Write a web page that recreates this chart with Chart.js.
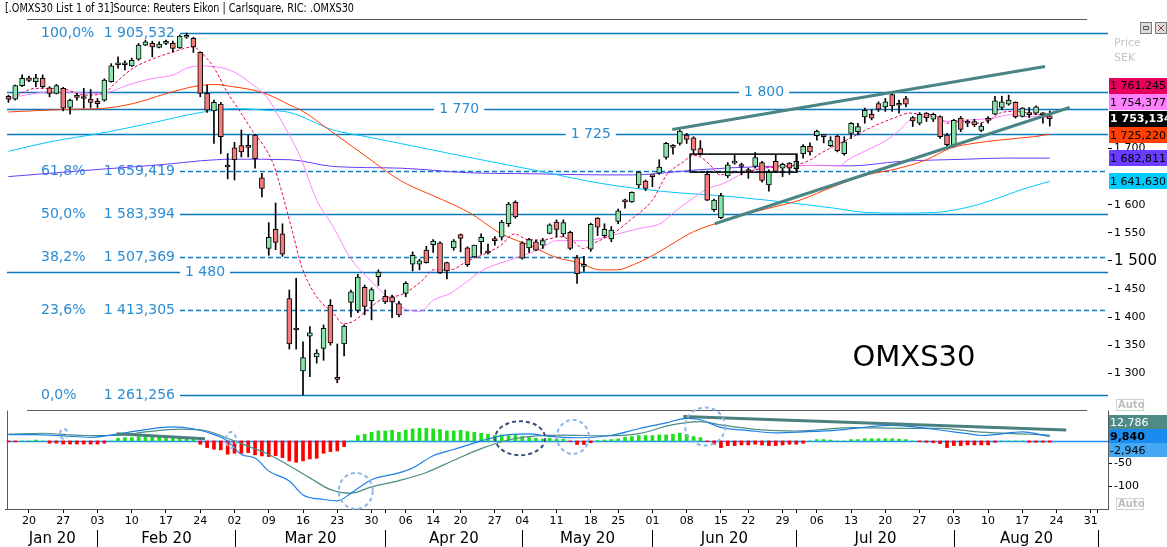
<!DOCTYPE html>
<html>
<head>
<meta charset="utf-8">
<script src="https://cdn.jsdelivr.net/npm/chart.js@4.4.1/dist/chart.umd.min.js"></script>
<style>
  html, body { margin: 0; padding: 0; background: #fff; }
  #wrap { width: 1167px; height: 547px; position: relative; }
</style>
</head>
<body>
<div id="wrap"><canvas id="chart"></canvas></div>
<script>
// --- trading days (OMX Stockholm, holidays skipped) ---
const holidays = ['2020-04-10', '2020-04-13', '2020-05-01', '2020-05-21', '2020-06-19'];
const days = [];
for (let t = Date.UTC(2020, 0, 15); t <= Date.UTC(2020, 8, 2); t += 864e5) {
    const d = new Date(t), wd = d.getUTCDay(), iso = d.toISOString().slice(0, 10);
    if (wd > 0 && wd < 6 && !holidays.includes(iso)) days.push(iso);
}
const monthNames = ['Jan', 'Feb', 'Mar', 'Apr', 'May', 'Jun', 'Jul', 'Aug', 'Sep'];

// --- OMXS30 daily candles, 15 Jan - 21 Aug 2020 ---
const opens = [
    1793, 1788, 1812, 1826, 1819, 1825, 1808, 1798, 1807, 1773,
    1793, 1791, 1788, 1784, 1786, 1819, 1849, 1849, 1847, 1859,
    1884, 1887, 1880, 1887, 1887, 1879, 1898, 1896, 1871, 1798,
    1767, 1779, 1669, 1701, 1705, 1704, 1724, 1648, 1522, 1556,
    1548, 1433, 1379, 1304, 1366, 1329, 1344, 1421, 1290, 1352,
    1426, 1412, 1453, 1429, 1472, 1437, 1436, 1424, 1442, 1494,
    1494, 1519, 1529, 1532, 1497, 1523, 1547, 1523, 1507, 1534,
    1515, 1538, 1542, 1566, 1604, 1532, 1523, 1534, 1528, 1549,
    1569, 1548, 1551, 1506, 1490, 1521, 1576, 1545, 1539, 1570,
    1606, 1605, 1635, 1642, 1651, 1656, 1684, 1703, 1709, 1724,
    1719, 1700, 1654, 1591, 1577, 1651, 1674, 1669, 1660, 1668,
    1675, 1635, 1677, 1665, 1674, 1664, 1691, 1704, 1723, 1722,
    1705, 1722, 1691, 1727, 1730, 1756, 1761, 1780, 1774, 1796,
    1778, 1789, 1755, 1745, 1763, 1752, 1757, 1724, 1706, 1754,
    1746, 1748, 1732, 1752, 1761, 1773, 1779, 1782, 1757, 1764,
    1763, 1761, 1758
];
const highs = [
    1795, 1813, 1831, 1829, 1832, 1831, 1810, 1814, 1809, 1788,
    1798, 1807, 1805, 1789, 1824, 1851, 1863, 1856, 1861, 1887,
    1893, 1891, 1890, 1893, 1891, 1902, 1905.53, 1898, 1872, 1813,
    1786, 1782, 1691, 1711, 1733, 1724, 1725, 1656, 1568, 1603,
    1566, 1448, 1469, 1356, 1383, 1342, 1386, 1431, 1352, 1386,
    1448, 1476, 1457, 1452, 1484, 1448, 1439, 1428, 1463, 1516,
    1503, 1526, 1538, 1534, 1498, 1538, 1548, 1525, 1528, 1548,
    1530, 1543, 1572, 1604, 1607, 1534, 1540, 1537, 1540, 1566,
    1573, 1573, 1553, 1510, 1508, 1567, 1577, 1566, 1561, 1592,
    1610, 1623, 1659, 1644, 1652, 1680, 1711, 1707, 1733, 1727,
    1721, 1714, 1660, 1610, 1620, 1675, 1688, 1674, 1665, 1693,
    1677, 1662, 1688, 1674, 1675, 1688, 1707, 1710, 1733, 1724,
    1721, 1724, 1721, 1746, 1745, 1772, 1769, 1783, 1789, 1798,
    1786, 1793, 1757, 1764, 1764, 1763, 1758, 1727, 1752, 1757,
    1751, 1752, 1745, 1757, 1793, 1793, 1795, 1783, 1773, 1773,
    1776, 1764, 1767
];
const lows = [
    1782, 1786, 1810, 1819, 1810, 1808, 1792, 1797, 1767, 1761,
    1786, 1772, 1773, 1773, 1784, 1818, 1843, 1840, 1846, 1857,
    1883, 1863, 1879, 1885, 1872, 1878, 1896, 1871, 1792, 1764,
    1709, 1691, 1646, 1644, 1685, 1685, 1665, 1614, 1510, 1520,
    1508, 1343, 1343, 1261.26, 1294, 1318, 1323, 1350, 1283, 1331,
    1400, 1408, 1404, 1395, 1456, 1424, 1399, 1400, 1436, 1482,
    1484, 1496, 1515, 1477, 1468, 1519, 1516, 1490, 1506, 1512,
    1512, 1528, 1537, 1561, 1576, 1503, 1515, 1518, 1522, 1548,
    1543, 1543, 1520, 1460, 1481, 1517, 1545, 1542, 1534, 1566,
    1594, 1604, 1630, 1625, 1632, 1654, 1681, 1690, 1706, 1709,
    1690, 1688, 1607, 1588, 1575, 1648, 1672, 1653, 1647, 1665,
    1640, 1624, 1658, 1650, 1654, 1659, 1683, 1688, 1715, 1710,
    1703, 1694, 1688, 1718, 1724, 1745, 1751, 1766, 1766, 1766,
    1763, 1774, 1739, 1742, 1748, 1748, 1718, 1704, 1703, 1730,
    1739, 1739, 1730, 1745, 1760, 1769, 1777, 1754, 1756, 1755,
    1760, 1745, 1740
];
const closes = [
    1788, 1812, 1825, 1821, 1826, 1810, 1798, 1812, 1772, 1786,
    1791, 1789, 1782, 1780, 1822, 1847, 1852, 1851, 1857, 1884,
    1890, 1881, 1886, 1888, 1878, 1900, 1900, 1881, 1798, 1768,
    1782, 1721, 1667, 1680, 1694, 1702, 1682, 1629, 1542, 1533,
    1512, 1352, 1377, 1328, 1372, 1336, 1380, 1354, 1289, 1384,
    1445, 1471, 1419, 1449, 1480, 1427, 1427, 1404, 1460, 1510,
    1500, 1497, 1535, 1479, 1482, 1535, 1540, 1493, 1528, 1542,
    1514, 1536, 1569, 1601, 1578, 1505, 1538, 1519, 1536, 1564,
    1556, 1568, 1522, 1477, 1494, 1565, 1560, 1556, 1555, 1589,
    1605, 1622, 1658, 1629, 1650, 1667, 1709, 1702, 1731, 1716,
    1697, 1691, 1608, 1608, 1616, 1671, 1677, 1668, 1659, 1684,
    1643, 1659, 1659, 1672, 1665, 1677, 1704, 1694, 1731, 1721,
    1714, 1696, 1712, 1745, 1739, 1768, 1754, 1770, 1783, 1776,
    1777, 1779, 1749, 1761, 1755, 1761, 1721, 1707, 1750, 1734,
    1745, 1742, 1740, 1750, 1785, 1783, 1786, 1756, 1772, 1760,
    1774, 1760, 1753.134
];

// moving averages, [day index, value]
const maFast = [[0,1786],[4,1807],[8,1806],[11,1795],[14,1798],[15.3,1813],[18.2,1843],[21.2,1860],[24.1,1872],[27,1881],[28,1872],[29.9,1846],[31.9,1801],[33.8,1766],[35.7,1730],[37.2,1706],[38.7,1671],[40.1,1614],[41.5,1550],[42.8,1490],[45,1436],[47.4,1407],[48.9,1388],[50.3,1392],[52.3,1412],[54.7,1433],[57.2,1439],[58.6,1448],[60.5,1466],[62,1484],[64.5,1484],[66.9,1499],[69.8,1514],[71.7,1526],[73.9,1548],[75.7,1538],[78,1537],[80.5,1543],[82.5,1534],[83.9,1522],[85.4,1531],[88.3,1549],[91,1575],[94,1608],[96.1,1653],[98.5,1676],[100,1688],[101,1685],[102.4,1671],[103.9,1653],[105.3,1656],[107.7,1659],[110.2,1665],[113.1,1668],[115.1,1671],[117.1,1680],[118.5,1691],[123.3,1721],[126.2,1739],[129.2,1754],[131.6,1763],[133.1,1761],[135,1760],[136,1754],[137,1745],[138.9,1748],[141.3,1745],[143.3,1751],[144.7,1763],[146.7,1766],[148.6,1764],[150.6,1760],[152,1761.245]];
const maPink = [[0,1790],[6.6,1801],[13.4,1798],[18.2,1816],[21.2,1825],[24.1,1831],[26,1843],[28,1847],[29.9,1846],[32.8,1837],[35.7,1813],[37.7,1792],[39.6,1754],[41.1,1722],[42.6,1685],[45,1608],[47.4,1561],[49.9,1505],[52.3,1472],[54.7,1443],[57.2,1418],[60.1,1410],[62,1430],[64.5,1442],[66.9,1463],[69.3,1484],[71.8,1496],[74.7,1508],[77.6,1521],[80,1536],[82.5,1536],[84.4,1536],[86.4,1540],[89.3,1549],[92.2,1558],[95.1,1566],[97.5,1590],[100,1612],[102,1628],[104.4,1638],[107.3,1656],[110.2,1665],[113.1,1669],[116,1670],[121.4,1669],[122.4,1679],[125.3,1697],[128.2,1715],[130.1,1733],[131.6,1751],[133.5,1757],[135,1758],[137,1748],[139.4,1750],[141.8,1752],[143.7,1754],[146.2,1760],[148.6,1757],[150.6,1756],[152,1754.377]];
const maRed = [[0,1765],[9.5,1770],[13.4,1771],[18.2,1780],[23.1,1798],[27,1810],[29.9,1814],[32.8,1810],[36.7,1801],[39.2,1789],[41.1,1777],[42.6,1769],[47.4,1728],[52.3,1685],[57.2,1643],[63.5,1608],[67.4,1585],[71.8,1549],[76.6,1525],[79.5,1508],[83.4,1496],[86.4,1484],[88.8,1484],[91.2,1493],[94.1,1510],[97,1531],[100,1552],[103.4,1567],[108.2,1585],[113.1,1600],[115.5,1608],[120.4,1632],[125.3,1653],[129.7,1664],[134,1680],[137.4,1700],[140.8,1709],[144.7,1715],[149.6,1721],[152,1725.22]];
const maCyan = [[0,1695],[6.1,1712],[13.4,1727],[20.7,1745],[28,1764],[32.8,1771],[37.7,1768],[41.1,1764],[47.4,1733],[52.3,1721],[57.2,1709],[66.9,1685],[76.6,1662],[86.4,1638],[96.1,1623],[105.8,1614],[115.1,1602],[120.4,1594],[125.3,1586],[130.1,1585],[135,1586],[139.9,1595],[143.8,1609],[147.7,1626],[152,1641.63]];
const maPurple = [[0,1650],[13.4,1663],[23.1,1672],[28,1678],[32.8,1681],[41.1,1680],[47.4,1668],[57.2,1665],[66.9,1657],[76.6,1655],[86.4,1653],[91.2,1653],[96.1,1657],[100.5,1662],[110.2,1668],[118.5,1670],[122.9,1669],[130.1,1677],[139.9,1681],[145.7,1683],[152,1682.811]];

// MACD panel
const macdLine = [[0,14],[4,14],[8,11],[12,8],[16,15.5],[20,25],[24,31],[27,27],[30,14],[32,0],[34,-30],[36,-38],[38,-67],[41,-89],[43,-120],[46,-130],[48,-133],[50,-116],[53,-86],[57,-71],[59,-60],[62,-33],[65,-19],[69,0],[73,14],[76,15.5],[79,10],[83,7],[88,12.6],[92,27],[96,40],[99,50],[101,47],[104,30],[108,23],[112,18],[116,20],[121,24],[126,32],[129,34.5],[133,30],[137,22],[140,16],[142,12],[144,14],[148,20],[152,9.84]];
const signalLine = [[0,15],[5,17],[11,12],[16,12],[20,20],[25,26],[29,22],[32,6],[35,-12],[38,-30],[41,-55],[44,-82],[47,-108],[50,-116],[53,-102],[57,-88],[61,-70],[65,-43],[69,-17],[73,2],[77,11],[81,13],[87,11],[92,16],[97,36],[101,43],[104,35.5],[110,24.4],[115,22],[123,29.6],[131,28],[136,28],[142,19.3],[149,14.8],[152,12.786]];
const histogram = [
    -2, -2, 0, 0, 2, 0, -5, -5, -7, -7,
    -7, -7, -7, -7, -5, 0, 5.9, 7.4, 7.4, 9.6,
    9.6, 11.9, 9.6, 8.1, 7.4, 5.9, 5.9, 4.4, -7.4, -14.8,
    -18.5, -20, -29.6, -27.4, -27.4, -25.9, -31, -33.3, -34.8, -32.6,
    -37, -44.4, -47.4, -44.4, -40, -38.5, -27.4, -23.7, -22.2, -12.6,
    0, 11.9, 14.8, 19.3, 22.2, 22.2, 23.7, 19.3, 23.7, 26.7,
    28.1, 28.1, 26.7, 25.2, 22.2, 22.2, 23.7, 20.7, 19.3, 17,
    14.8, 11.9, 13.3, 11.9, 13.3, 9.6, 7.4, 5.9, 4.4, 5.9,
    4.4, 4.4, -1.5, -8, -8, -4, 1, 2, 3, 4.4,
    8.1, 9.6, 11.9, 11.9, 11.9, 13.3, 13.3, 14.8, 17, 14.8,
    9.6, 7.4, -1.5, -7.4, -14.8, -10.4, -10.4, -8.9, -8.9, -7.4,
    -8.9, -10.4, -10.4, -8.9, -7.4, -7.4, -5.2, 0, 3, 3,
    2, 0, 0, 3, 3, 5, 5, 5, 5, 5,
    4, 3, 0, -2, -3, -4, -6, -14.8, -10.4, -10.4,
    -8.9, -8.9, -8.9, -8.9, -3, 0, 0, 0, 0, -3,
    -3, -3, -2.946
];

// drawn analysis: fibonacci retracement, levels, trend lines
const fibPct = ['100,0%', '61,8%', '50,0%', '38,2%', '23,6%', '0,0%'];
const fibValues = [1905.532, 1659.419, 1583.394, 1507.369, 1413.305, 1261.256];
const fibDashed = [false, true, false, true, true, false];
const levels = [1800, 1770, 1725, 1480];
const levelLabelAt = [110.3, 65.8, 85, 28.7];
const priceTrends = [[[96.9, 1734], [151.3, 1846]], [[103.1, 1566], [154.9, 1773]]];
const macdTrends = [[[15.8, 16], [28.7, 5]], [[98.5, 54], [154.4, 24]]];
const rangeBox = [99.5, 115.1, 1658, 1690];
const macdCircles = [
    {i: 8.1, v: 15.5, rx: 4, ry: 5, dark: false},
    {i: 32.5, v: 2, rx: 5, ry: 8, dark: false},
    {i: 50.7, v: -111, rx: 17, ry: 18, dark: false},
    {i: 74.7, v: 6, rx: 25, ry: 17, dark: true},
    {i: 82.4, v: 9, rx: 16, ry: 17, dark: false},
    {i: 101.7, v: 32, rx: 20, ry: 19, dark: false}
];
const priceTicks = [1300, 1350, 1400, 1450, 1500, 1550, 1600, 1700];
const macdTicks = [-100, -50];

const FONT = '"DejaVu Sans", Verdana, sans-serif';
const lineBlue = '#0b78c0';
const textBlue = '#2a8bd2';
const upColor = '#86e6aa';
const downColor = '#f27b7b';

// value tags on the right scale (last values)
const priceTags = [
    {v: 1761.245, bg: '#e6005c', fg: '#000'},
    {v: 1754.377, bg: '#ff80ff', fg: '#000'},
    {v: 1753.134, bg: '#000', fg: '#fff', bold: true},
    {v: 1725.220, bg: '#ff4000', fg: '#000'},
    {v: 1682.811, bg: '#6a3cff', fg: '#000'},
    {v: 1641.630, bg: '#00ccff', fg: '#000'}
];
const macdTags = [
    {v: 12.786, bg: '#4e8a86', fg: '#fff'},
    {v: 9.840, bg: '#1a8cf0', fg: '#000', bold: true},
    {v: -2.946, bg: '#45a8f2', fg: '#000'}
];

// --- helpers ---
function fmtSv(v, dec) {
    const parts = Math.abs(v).toFixed(dec).split('.');
    const int = parts[0].replace(/\B(?=(\d{3})+(?!\d))/g, ' ');
    return (v < 0 ? '-' : '') + (parts[1] ? int + ',' + parts[1] : int);
}
function hline(ctx, x1, x2, y) {
    ctx.beginPath(); ctx.moveTo(x1, y); ctx.lineTo(x2, y); ctx.stroke();
}
const pts = arr => arr.map(([i, v]) => ({x: i, y: v}));
const dow = s => new Date(s + 'T00:00:00Z').getUTCDay();
const mon = s => +s.slice(5, 7) - 1;

const weekStarts = [], monthStarts = [];
days.forEach((d, i) => {
    if (i === 0) return;
    if (dow(d) < dow(days[i - 1])) weekStarts.push(i);
    if (mon(d) !== mon(days[i - 1])) monthStarts.push(i);
});
const xTicks = [...new Set([...weekStarts, ...monthStarts])].sort((a, b) => a - b);

function placeTags(tags, scale, anchor, gap) {
    const ys = tags.map(t => scale.getPixelForValue(t.v));
    for (let k = anchor - 1; k >= 0; k--) ys[k] = Math.min(ys[k], ys[k + 1] - gap);
    for (let k = anchor + 1; k < tags.length; k++) ys[k] = Math.max(ys[k], ys[k - 1] + gap);
    return ys;
}

// --- background levels (fib + horizontal lines) ---
const levelsPlugin = {
    id: 'levels',
    beforeDatasetsDraw(chart) {
        const {ctx, chartArea: a, scales: {x, y, y2}} = chart;
        ctx.save();
        ctx.font = '14px ' + FONT;
        ctx.textBaseline = 'middle';
        ctx.lineWidth = 1.3;
        ctx.strokeStyle = lineBlue;
        fibValues.forEach((v, i) => {
            const py = Math.round(y.getPixelForValue(v)) + 0.5;
            ctx.setLineDash(fibDashed[i] ? [5, 3] : []);
            hline(ctx, 180, a.right, py);
            ctx.fillStyle = textBlue;
            ctx.textAlign = 'left';
            ctx.fillText(fibPct[i], 41, py);
            ctx.textAlign = 'right';
            ctx.fillText(fmtSv(v, 3), 175, py);
        });
        ctx.setLineDash([]);
        levels.forEach((v, i) => {
            const py = Math.round(y.getPixelForValue(v)) + 0.5;
            const cx = x.getPixelForValue(levelLabelAt[i]);
            const label = fmtSv(v, 0);
            const w = ctx.measureText(label).width;
            hline(ctx, a.left + 2, cx - w / 2 - 5, py);
            hline(ctx, cx + w / 2 + 5, a.right, py);
            ctx.fillStyle = textBlue;
            ctx.textAlign = 'center';
            ctx.fillText(label, cx, py);
        });
        // macd zero line
        ctx.strokeStyle = '#1e90ff';
        ctx.lineWidth = 1.5;
        hline(ctx, a.left + 2, a.right, Math.round(y2.getPixelForValue(0)) + 0.5);
        ctx.restore();
    }
};

// --- overlays: frames, notes, tags, texts ---
const overlayPlugin = {
    id: 'overlay',
    afterDraw(chart) {
        const {ctx, chartArea: a, scales: {x, y, y2}} = chart;
        ctx.save();
        ctx.setLineDash([]);
        ctx.strokeStyle = '#5a5a5a';
        ctx.lineWidth = 1;
        hline(ctx, 27, 1087, 19.5);
        const mTop = Math.round(y2.top) + 2.5;
        hline(ctx, 27, 1087, mTop);
        ctx.beginPath();
        ctx.moveTo(a.left + 2.5, mTop); ctx.lineTo(a.left + 2.5, a.bottom);
        ctx.moveTo(a.right + 0.5, mTop); ctx.lineTo(a.right + 0.5, a.bottom);
        ctx.stroke();

        // consolidation box
        const bx1 = x.getPixelForValue(rangeBox[0]), bx2 = x.getPixelForValue(rangeBox[1]);
        const by1 = y.getPixelForValue(rangeBox[3]), by2 = y.getPixelForValue(rangeBox[2]);
        ctx.strokeStyle = '#000';
        ctx.lineWidth = 1.5;
        ctx.strokeRect(bx1, by1, bx2 - bx1, by2 - by1);

        // dashed circles on MACD
        macdCircles.forEach(c => {
            ctx.strokeStyle = c.dark ? '#34507a' : '#8db6e6';
            ctx.lineWidth = 2;
            ctx.setLineDash([4, 3]);
            ctx.beginPath();
            ctx.ellipse(x.getPixelForValue(c.i), y2.getPixelForValue(c.v), c.rx, c.ry, 0, 0, Math.PI * 2);
            ctx.stroke();
        });
        ctx.setLineDash([]);

        // index name
        ctx.fillStyle = '#000';
        ctx.font = '29px ' + FONT;
        ctx.textAlign = 'center';
        ctx.textBaseline = 'middle';
        ctx.fillText('OMXS30', 914, 358);

        // value tags
        const drawTags = (tags, scale, anchor, gap, h) => {
            const ys = placeTags(tags, scale, anchor, gap);
            tags.forEach((t, k) => {
                ctx.fillStyle = t.bg;
                ctx.fillRect(a.right + 1, Math.round(ys[k] - h / 2), 1167 - a.right - 1, h);
                ctx.fillStyle = t.fg;
                ctx.font = (t.bold ? 'bold ' : '') + '11px ' + FONT;
                ctx.textAlign = 'left';
                ctx.fillText(fmtSv(t.v, 3), a.right + 2, ys[k] + 0.5);
            });
        };
        drawTags(priceTags, y, 2, 16.5, 16);
        drawTags(macdTags, y2, 1, 14, 14);

        // right corner texts
        ctx.fillStyle = '#c4c4c4';
        ctx.font = '11px ' + FONT;
        ctx.textAlign = 'left';
        ctx.fillText('Price', 1114, 43);
        ctx.fillText('SEK', 1114, 58);
        [[1116, y.bottom - 9], [1116, a.bottom - 11]].forEach(([ax, ay]) => {
            ctx.strokeStyle = '#cfcfcf';
            ctx.lineWidth = 1;
            ctx.strokeRect(ax + 0.5, ay + 0.5, 27, 11);
            ctx.fillStyle = '#bdbdbd';
            ctx.font = 'bold 10px ' + FONT;
            ctx.fillText('Auto', ax + 2, ay + 6.5);
        });
        // window buttons
        [[1140, 22], [1155, 22]].forEach(([bx, by], k) => {
            ctx.fillStyle = '#dcdcdc';
            ctx.fillRect(bx, by, 12, 12);
            ctx.strokeStyle = '#7a7a7a';
            ctx.strokeRect(bx + 0.5, by + 0.5, 11, 11);
            ctx.strokeStyle = k ? '#9a3b3b' : '#555';
            ctx.beginPath();
            if (k) { ctx.moveTo(bx + 3, by + 3); ctx.lineTo(bx + 9, by + 9); ctx.moveTo(bx + 9, by + 3); ctx.lineTo(bx + 3, by + 9); }
            else { ctx.rect(bx + 3.5, by + 4.5, 5, 3); }
            ctx.stroke();
        });

        // title
        ctx.fillStyle = '#000';
        ctx.font = '12px ' + FONT;
        ctx.textBaseline = 'middle';
        const title = '[.OMXS30 List 1 of 31]Source: Reuters Eikon | Carlsquare, RIC: .OMXS30';
        const tw = ctx.measureText(title).width;
        ctx.save();
        ctx.translate(5, 9);
        ctx.scale(349 / tw, 1);
        ctx.fillText(title, 0, 0);
        ctx.restore();

        // month row under the day ticks
        const sepX = monthStarts.map(i => Math.round(x.getPixelForValue(i)) + 0.5);
        ctx.strokeStyle = '#000';
        ctx.lineWidth = 1;
        sepX.forEach(sx => { ctx.beginPath(); ctx.moveTo(sx, 530); ctx.lineTo(sx, 547); ctx.stroke(); });
        ctx.font = '15px ' + FONT;
        ctx.textAlign = 'center';
        ctx.fillStyle = '#000';
        const starts = [0, ...monthStarts];
        starts.forEach((i, k) => {
            if (k >= monthStarts.length) return;
            const left = k === 0 ? a.left + 2 : sepX[k - 1];
            const right = sepX[k];
            ctx.fillText(monthNames[mon(days[i])] + ' 20', (left + right) / 2, 539);
        });
        ctx.restore();
    }
};

const lineSet = (data, color, order, extra) => Object.assign({
    type: 'line', data: pts(data), borderColor: color, borderWidth: 1, pointRadius: 0,
    fill: false, cubicInterpolationMode: 'monotone', yAxisID: 'y', order
}, extra || {});

const datasets = [
    {
        label: 'body', data: opens.map((o, i) => ({x: i, y: [o, closes[i]]})),
        backgroundColor: opens.map((o, i) => closes[i] >= o ? upColor : downColor),
        borderColor: '#000', borderWidth: 1, borderSkipped: false, barThickness: 5,
        minBarLength: 2, grouped: false, yAxisID: 'y', order: 1
    },
    {
        label: 'wick', data: lows.map((l, i) => ({x: i, y: [l, highs[i]]})),
        backgroundColor: '#000', barThickness: 1, grouped: false, yAxisID: 'y', order: 2
    },
    lineSet(maFast, '#e6005c', 3, {borderDash: [3, 2]}),
    lineSet(maPink, '#ff80ff', 4),
    lineSet(maRed, '#ff4000', 5),
    lineSet(maCyan, '#00c8ff', 6),
    lineSet(maPurple, '#6a3cff', 7),
    {
        label: 'hist', data: histogram.map((v, i) => ({x: i, y: v})),
        backgroundColor: histogram.map(v => v >= 0 ? '#1ee01e' : '#ff0000'),
        barThickness: 3, grouped: false, yAxisID: 'y2', order: 12
    },
    lineSet(macdLine, '#1b7fe6', 9, {yAxisID: 'y2', borderWidth: 1.2}),
    lineSet(signalLine, '#4c8c84', 10, {yAxisID: 'y2', borderWidth: 1.2})
];
priceTrends.forEach(tr => datasets.push(lineSet(tr, '#4a8484', 0, {borderWidth: 3, cubicInterpolationMode: 'default'})));
macdTrends.forEach(tr => datasets.push(lineSet(tr, '#4a8080', 8, {yAxisID: 'y2', borderWidth: 3, cubicInterpolationMode: 'default'})));

new Chart(document.getElementById('chart'), {
    type: 'bar',
    data: {datasets},
    options: {
        responsive: true,
        maintainAspectRatio: false,
        animation: false,
        devicePixelRatio: 1,
        events: [],
        layout: {padding: {left: 5, top: 19, right: 0, bottom: 0}},
        plugins: {legend: {display: false}, tooltip: {enabled: false}},
        scales: {
            x: {
                type: 'linear', min: -0.5, max: days.length - 0.5, offset: false, bounds: 'data',
                grid: {drawOnChartArea: false, tickLength: 4, color: '#000', offset: false},
                border: {color: '#555'},
                ticks: {
                    autoSkip: false, maxRotation: 0, minRotation: 0, padding: 2, color: '#000',
                    font: {family: FONT, size: 11},
                    callback: v => weekStarts.includes(v) ? days[v].slice(8, 10) : ''
                },
                afterBuildTicks: s => { s.ticks = xTicks.map(v => ({value: v})); },
                afterFit: s => { s.height = 38; }
            },
            y: {
                position: 'right', stack: 'pane', stackWeight: 389, min: 1238.1, max: 1930.5, bounds: 'data',
                grid: {drawOnChartArea: false, tickLength: 4, color: '#000'},
                border: {display: false},
                ticks: {
                    autoSkip: false, padding: 2, color: '#000',
                    font: c => ({family: FONT, size: c.tick && c.tick.value === 1500 ? 15 : 11}),
                    callback: v => fmtSv(v, 0)
                },
                afterBuildTicks: s => { s.ticks = priceTicks.map(v => ({value: v})); },
                afterFit: s => { s.width = 59; }
            },
            y2: {
                position: 'right', stack: 'pane', stackWeight: 101, min: -151, max: 73, bounds: 'data',
                grid: {drawOnChartArea: false, tickLength: 4, color: '#000'},
                border: {display: false},
                ticks: {autoSkip: false, padding: 2, color: '#000', font: {family: FONT, size: 11}},
                afterBuildTicks: s => { s.ticks = macdTicks.map(v => ({value: v})); },
                afterFit: s => { s.width = 59; }
            }
        }
    },
    plugins: [levelsPlugin, overlayPlugin]
});
</script>
</body>
</html>
